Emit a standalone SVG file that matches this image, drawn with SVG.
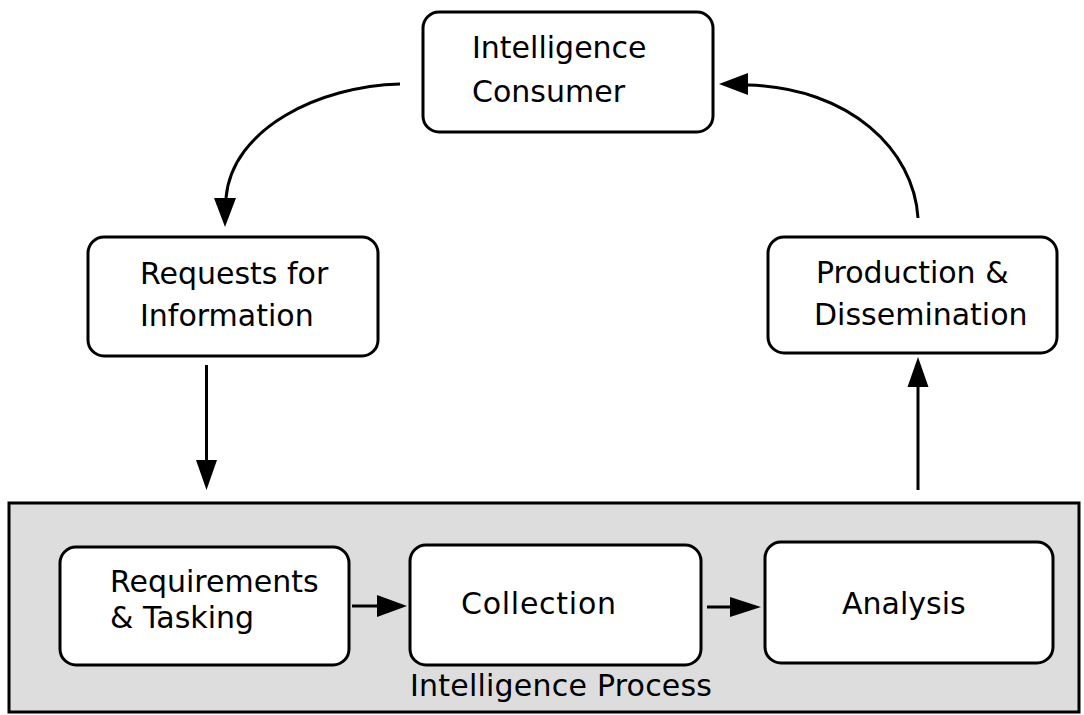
<svg xmlns="http://www.w3.org/2000/svg" width="1084" height="715" viewBox="0 0 1084 715">
<style>
.box{fill:#fff;stroke:#000;stroke-width:3}
.lbl{font-family:"DejaVu Sans",Verdana,sans-serif;font-size:30px;fill:#000}
.con{fill:none;stroke:#000;stroke-width:3}
</style>
<rect width="1084" height="715" fill="#fff"/>
<g id="process">
<rect x="9" y="503" width="1070" height="209" fill="#ddd" stroke="#000" stroke-width="3"/>
<text class="lbl" x="410" y="696" textLength="302">Intelligence Process</text>
</g>
<g id="consumer">
<rect class="box" x="423" y="12" width="290" height="120" rx="16"/>
<text class="lbl" x="472" y="58">Intelligence</text>
<text class="lbl" x="472" y="102">Consumer</text>
</g>
<g id="requests">
<rect class="box" x="88" y="237" width="290" height="119" rx="16"/>
<text class="lbl" x="140" y="284">Requests for</text>
<text class="lbl" x="140" y="326">Information</text>
</g>
<g id="production">
<rect class="box" x="768" y="237" width="289" height="116" rx="16"/>
<text class="lbl" x="816" y="283">Production &amp;</text>
<text class="lbl" x="814" y="325">Dissemination</text>
</g>
<g id="requirements">
<rect class="box" x="60" y="547" width="289" height="118" rx="16"/>
<text class="lbl" x="110" y="592">Requirements</text>
<text class="lbl" x="110" y="628">&amp; Tasking</text>
</g>
<g id="collection">
<rect class="box" x="410" y="545" width="291" height="120" rx="16"/>
<text class="lbl" x="461" y="614" textLength="155">Collection</text>
</g>
<g id="analysis">
<rect class="box" x="765" y="542" width="288" height="121" rx="16"/>
<text class="lbl" x="842" y="614">Analysis</text>
</g>
<g id="connectors">
<path class="con" d="M400,84 C320,86 232,128 226,198"/>
<path d="M214,198 L236,198 L225,227 Z" fill="#000"/>
<path class="con" d="M918,218 C914,150 850,88 748,85"/>
<path d="M748,73 L748,95 L719,84 Z" fill="#000"/>
<line class="con" x1="206.5" y1="365" x2="206.5" y2="462"/>
<path d="M196,460 L217,460 L206.5,490 Z" fill="#000"/>
<line class="con" x1="918" y1="490" x2="918" y2="385"/>
<path d="M907.5,387 L928.5,387 L918,357 Z" fill="#000"/>
<line class="con" x1="352" y1="606" x2="380" y2="606"/>
<path d="M377,595 L407,606 L377,617 Z" fill="#000"/>
<line class="con" x1="707" y1="607" x2="732" y2="607"/>
<path d="M730,597 L761,607 L730,617 Z" fill="#000"/>
</g>
</svg>
